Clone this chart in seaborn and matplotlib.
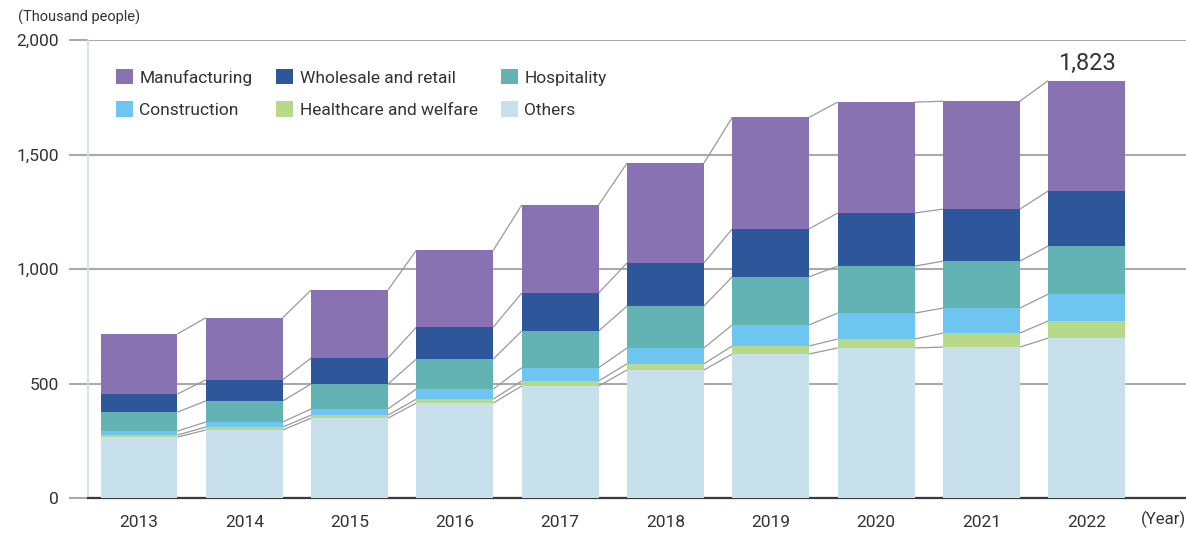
import numpy as np
import pandas as pd
import matplotlib.pyplot as plt
import matplotlib.patches as mpatches
import seaborn as sns

# Foreign workers by industry (thousand people)
years = ["2013", "2014", "2015", "2016", "2017", "2018", "2019", "2020", "2021", "2022"]
others = [267, 298, 350, 416, 490, 560, 630, 656, 660, 699]
healthcare = [9, 13, 13, 17, 22, 27, 35, 39, 61, 75]
construction = [17, 22, 27, 44, 58, 69, 92, 113, 109, 117]
hospitality = [83, 92, 109, 131, 160, 183, 210, 205, 205, 210]
wholesale = [79, 92, 113, 139, 166, 188, 209, 232, 227, 240]
manufacturing = [262, 271, 297, 336, 384, 436, 487, 484, 471, 482]
total_label = "1,823"

series = ["Others", "Healthcare and welfare", "Construction",
          "Hospitality", "Wholesale and retail", "Manufacturing"]
values = [others, healthcare, construction, hospitality, wholesale, manufacturing]
colors = ["#C8E0EC", "#B9D98A", "#6EC6F0", "#63B3B4", "#2E569B", "#8872B2"]

df = pd.DataFrame(dict(zip(series, values)), index=years)
cum = df.cumsum(axis=1)

sns.set_theme(style="white")
plt.rcParams["font.family"] = ["Roboto", "DejaVu Sans"]
plt.rcParams["text.color"] = "#333333"

fig = plt.figure(figsize=(11.86, 5.35), dpi=100)
ax = fig.add_axes([88 / 1186, 0.0686, 1098 / 1186, 0.8566])

bar_w = 0.73
# stacked bars: draw the cumulative totals from the top down
for name, color in zip(series[::-1], colors[::-1]):
    sns.barplot(x=years, y=cum[name].values, color=color, saturation=1,
                width=bar_w, linewidth=0, ax=ax, zorder=3)

# connector lines between bars
for name in series:
    c = cum[name].values
    for i in range(len(years) - 1):
        ax.plot([i + bar_w / 2, i + 1 - bar_w / 2], [c[i], c[i + 1]],
                color="#9a9a9a", lw=0.9, zorder=2, solid_capstyle="butt")

ax.set_ylim(0, 2000)
ax.set_xlim(-0.484, 9.943)
ax.set_yticks([0, 500, 1000, 1500, 2000])
ax.set_yticklabels(["0", "500", "1,000", "1,500", "2,000"])
ax.yaxis.grid(True, color="#aaaaaa", lw=1.5)
ax.set_axisbelow(True)
ax.tick_params(axis="y", length=14, width=1.5, color="#aaaaaa", pad=7,
               labelsize=12.5, labelcolor="#333333", left=True)
ax.tick_params(axis="x", length=0, pad=12, labelsize=12.5, labelcolor="#333333")
ax.set_xlabel("")
ax.set_ylabel("")

for s in ["top", "right"]:
    ax.spines[s].set_visible(False)
ax.spines["left"].set_color("#C8E0EC")
ax.spines["left"].set_linewidth(1.2)
ax.spines["bottom"].set_color("#3a3a3a")
ax.spines["bottom"].set_linewidth(1.6)

# total label on the last bar
ax.text(9, cum["Manufacturing"].values[-1] + 25, total_label, ha="center",
        va="bottom", fontsize=17, color="#333333")

ax.text(1.0, -0.047, "(Year)", transform=ax.transAxes, ha="right", va="center",
        fontsize=12, color="#333333")
fig.text(18 / 1186, 1 - 17 / 535, "(Thousand people)", ha="left", va="center",
         fontsize=10.5, color="#333333")

# legend, filled column by column
order = ["Manufacturing", "Construction", "Wholesale and retail",
         "Healthcare and welfare", "Hospitality", "Others"]
cmap = dict(zip(series, colors))
handles = [mpatches.Patch(facecolor=cmap[n], edgecolor="none", label=n) for n in order]
ax.legend(handles=handles, ncol=3, loc="upper left",
          bbox_to_anchor=((116 - 88) / 1098, 0.937), frameon=False,
          fontsize=12.5, handlelength=1.0, handleheight=1.0,
          handletextpad=0.35, columnspacing=1.35, labelspacing=0.9,
          borderpad=0, borderaxespad=0)

fig.savefig("out.png", dpi=100)
plt.close(fig)
